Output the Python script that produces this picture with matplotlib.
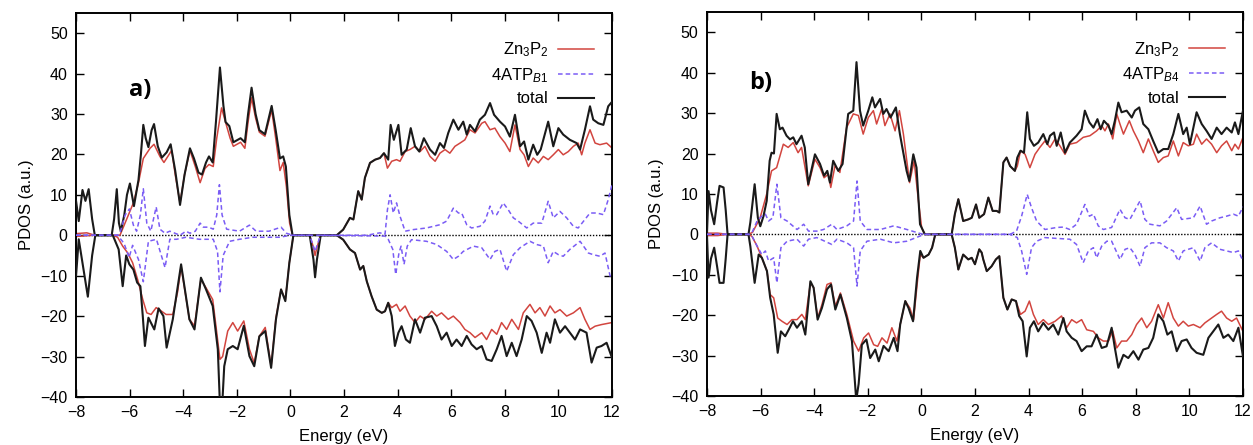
import numpy as np
import matplotlib.pyplot as plt

plt.rcParams['font.family'] = ['Liberation Sans', 'DejaVu Sans']
plt.rcParams['mathtext.fontset'] = 'custom'
plt.rcParams['mathtext.rm'] = 'Liberation Sans'
plt.rcParams['mathtext.it'] = 'Liberation Sans:italic'

# ---- panel a: (energy eV, PDOS) pairs, spin up (+) and spin down (-) ----
a_total_up = [(-8.0, 8.5), (-7.90, 3.5), (-7.76, 11.2), (-7.65, 8.5), (-7.53, 11.4), (-7.40, 4), (-7.30, 0),
              (-6.67, 0), (-6.58, 4), (-6.48, 11.4), (-6.40, 3), (-6.33, 1), (-6.20, 5), (-6.10, 10), (-5.99, 12.8),
              (-5.84, 7.2), (-5.67, 13.7), (-5.58, 20), (-5.49, 27.3), (-5.40, 24), (-5.30, 21.8), (-5.18, 26),
              (-5.09, 27.5), (-4.95, 22), (-4.80, 19.2), (-4.62, 20.5), (-4.47, 22.5), (-4.30, 16), (-4.12, 7.5),
              (-3.95, 15), (-3.75, 21.5), (-3.60, 19), (-3.43, 15.5), (-3.30, 15), (-3.15, 18), (-3.04, 19.5),
              (-2.90, 18), (-2.78, 28), (-2.63, 41.5), (-2.50, 32), (-2.42, 28), (-2.28, 27), (-2.13, 23),
              (-1.86, 24), (-1.70, 23), (-1.58, 30), (-1.45, 36.5), (-1.30, 30), (-1.16, 26), (-0.95, 25),
              (-0.70, 32), (-0.55, 26), (-0.39, 19), (-0.27, 19.5), (-0.17, 17), (-0.04, 5), (0.08, 0),
              (1.73, 0), (1.97, 1.4), (2.22, 4.3), (2.35, 3.9), (2.53, 10.9), (2.66, 8.8), (2.78, 14.2), (2.97, 17.9),
              (3.16, 18.7), (3.34, 19.1), (3.49, 20.3), (3.65, 18.7), (3.74, 27.3), (3.86, 23.6), (4.03, 27.3),
              (4.15, 19.9), (4.34, 21.2), (4.49, 26.5), (4.65, 22), (4.81, 20.7), (4.98, 24), (5.21, 21.2),
              (5.40, 19.9), (5.58, 22.8), (5.73, 21.6), (5.89, 25.3), (6.08, 28.6), (6.27, 26.1), (6.45, 28.1),
              (6.58, 24.9), (6.70, 27.3), (6.89, 25.7), (7.07, 28.6), (7.26, 29.8), (7.45, 32.7), (7.60, 29.8),
              (7.82, 28.1), (8.01, 26.9), (8.19, 24.4), (8.38, 29.8), (8.57, 22), (8.72, 23.2), (8.88, 18.7),
              (9.06, 22.4), (9.21, 19.9), (9.34, 21.2), (9.62, 28.1), (9.81, 22), (10.0, 26.5), (10.18, 24.9),
              (10.43, 23.6), (10.68, 22.8), (10.81, 21.2), (10.99, 26.1), (11.18, 31.9), (11.30, 28.6),
              (11.49, 27.7), (11.68, 27.3), (11.86, 31.9), (12.0, 33)]

a_zn_up = [(-8.0, 0.4), (-7.6, 0.6), (-7.3, 0), (-6.36, 0), (-6.11, 4), (-5.86, 8), (-5.67, 13), (-5.49, 19),
           (-5.24, 21.5), (-5.09, 22.5), (-4.87, 19.5), (-4.72, 18), (-4.43, 21), (-4.30, 15), (-4.12, 8),
           (-3.95, 15), (-3.75, 21), (-3.55, 17), (-3.37, 13), (-3.19, 16.5), (-3.04, 17.5), (-2.88, 17),
           (-2.75, 24), (-2.57, 31.5), (-2.38, 27), (-2.25, 24), (-2.13, 22), (-1.86, 23), (-1.70, 21.5),
           (-1.58, 28), (-1.45, 34), (-1.30, 29), (-1.16, 25.5), (-0.95, 24.5), (-0.70, 31), (-0.55, 24),
           (-0.39, 16), (-0.27, 18), (-0.15, 12), (-0.03, 3), (0.08, 0),
           (1.73, 0), (1.97, 1.4), (2.22, 4.3), (2.35, 3.9), (2.53, 10.9), (2.66, 8.8), (2.78, 14.2), (2.97, 17.9),
           (3.16, 18.7), (3.34, 19.1), (3.49, 20.3), (3.62, 16.6), (3.78, 18.3), (3.96, 18.7), (4.09, 18.3),
           (4.28, 20.7), (4.46, 21.2), (4.65, 22), (4.84, 20.7), (5.02, 22), (5.21, 19.5), (5.40, 18.3),
           (5.58, 20.3), (5.77, 21.2), (5.95, 20.3), (6.14, 22), (6.33, 22.8), (6.51, 23.6), (6.70, 26.1),
           (6.89, 25.3), (7.14, 27.7), (7.26, 28.1), (7.45, 26.1), (7.63, 26.5), (7.82, 24.4), (8.01, 22.8),
           (8.19, 20.7), (8.38, 27.3), (8.57, 21.2), (8.72, 19.9), (8.88, 17), (9.06, 19.1), (9.25, 17.9),
           (9.44, 19.5), (9.62, 18.7), (9.81, 19.9), (10.0, 21.2), (10.18, 19.9), (10.37, 20.7), (10.56, 22),
           (10.74, 22.8), (10.87, 19.9), (10.99, 22.8), (11.18, 26.1), (11.37, 22.8), (11.55, 22.4),
           (11.80, 22.8), (12.0, 21.6)]

a_atp_up = [(-8.0, 0), (-6.45, 0), (-6.36, 0.5), (-6.17, 5), (-6.01, 6.5), (-5.86, 2.5), (-5.74, 1), (-5.60, 5),
            (-5.49, 11.5), (-5.36, 3), (-5.21, 1), (-5.01, 7), (-4.87, 1.5), (-4.68, 0.5), (-4.50, 1), (-4.31, 0.5),
            (-4.12, 0), (-3.90, 1), (-3.75, 0.5), (-3.55, 1), (-3.37, 3), (-3.25, 2), (-3.05, 2), (-2.88, 1.5),
            (-2.75, 5), (-2.65, 12.5), (-2.55, 5), (-2.38, 1.5), (-1.90, 1), (-1.53, 2.5), (-1.28, 1), (-0.8, 1),
            (-0.35, 2), (-0.15, 0.5), (0.08, 0),
            (2.85, 0), (3.34, 0.6), (3.53, 0.2), (3.62, 6.3), (3.72, 10), (3.84, 5.5), (3.96, 8), (4.09, 4.7),
            (4.28, 1), (4.59, 1.4), (5.08, 1.8), (5.58, 2.6), (5.83, 3.5), (6.08, 6.7), (6.27, 5.5), (6.39, 5.5),
            (6.58, 2.6), (6.76, 1.8), (7.07, 2.2), (7.26, 3.5), (7.45, 7.2), (7.57, 5.1), (7.70, 5.1), (7.94, 8),
            (8.13, 6.3), (8.32, 4.3), (8.50, 3.5), (8.82, 1.8), (9.06, 3), (9.38, 3), (9.62, 8.4), (9.81, 4.3),
            (10.06, 5.9), (10.31, 4.3), (10.56, 2.2), (10.74, 1.8), (10.99, 3.9), (11.18, 5.5), (11.43, 5.5),
            (11.68, 5.1), (11.86, 8.8), (12.0, 12.5)]

a_total_dn = [(-8.0, -10), (-7.90, -1), (-7.56, -15.2), (-7.40, -5), (-7.28, 0), (-6.63, 0), (-6.41, -3.5),
              (-6.26, -12.6), (-6.13, -5), (-6.01, -7.2), (-5.86, -8.5), (-5.72, -11.7), (-5.60, -12.6),
              (-5.51, -20), (-5.43, -27.4), (-5.30, -20.4), (-5.08, -23.3), (-4.92, -18.1), (-4.74, -20),
              (-4.62, -27.8), (-4.39, -20.8), (-4.08, -7.2), (-3.77, -20.8), (-3.58, -23.3), (-3.34, -10.5),
              (-3.15, -13.4), (-2.90, -17.5), (-2.71, -28.2), (-2.63, -42), (-2.53, -40), (-2.47, -32.4),
              (-2.34, -28.2), (-2.15, -27.4), (-1.97, -28.2), (-1.74, -22.4), (-1.53, -29.9), (-1.35, -32.4),
              (-1.16, -25), (-0.94, -23.7), (-0.72, -32.8), (-0.54, -20.8), (-0.35, -13.4), (-0.19, -16.3),
              (-0.04, -6.8), (0.11, 0), (0.72, 0), (0.86, -6), (0.92, -10.4), (0.99, -6), (1.13, 0),
              (1.73, 0), (1.97, -1.1), (2.22, -3.5), (2.41, -4.4), (2.60, -8.5), (2.72, -7.6), (2.85, -11.4),
              (3.03, -15.1), (3.22, -18.4), (3.41, -19.2), (3.53, -18.8), (3.65, -16.7), (3.78, -20), (3.90, -27.4),
              (4.03, -24.1), (4.15, -22.5), (4.31, -25.8), (4.46, -26.6), (4.65, -20.8), (4.84, -24.1), (5.02, -20.4),
              (5.27, -20), (5.46, -22.5), (5.64, -25.8), (5.83, -24.1), (6.02, -27.4), (6.20, -25.8), (6.39, -27.4),
              (6.58, -24.9), (6.76, -27), (6.95, -28.2), (7.14, -27.4), (7.32, -30.7), (7.51, -31.1), (7.70, -28.2),
              (7.88, -24.9), (8.07, -29.9), (8.26, -26.6), (8.44, -29.9), (8.63, -25.8), (8.82, -20), (9.0, -21.2),
              (9.19, -24.1), (9.38, -29.1), (9.56, -24.1), (9.69, -26.6), (9.87, -20.8), (10.06, -24.1),
              (10.25, -22.5), (10.43, -24.1), (10.62, -25.8), (10.81, -23.3), (11.05, -24.1), (11.24, -31.5),
              (11.43, -27.8), (11.61, -27.4), (11.80, -26.6), (12.0, -30.3)]

a_zn_dn = [(-8.0, -0.3), (-7.3, 0), (-6.63, 0), (-6.45, -0.5), (-6.26, -2.7), (-6.07, -4.4), (-5.89, -6.8),
           (-5.70, -11), (-5.51, -15.9), (-5.36, -19.2), (-5.20, -19.6), (-5.01, -17.9), (-4.83, -18.7),
           (-4.64, -19.6), (-4.39, -19.6), (-4.21, -14), (-4.08, -7.7), (-3.77, -20.8), (-3.58, -22.4),
           (-3.34, -10.9), (-3.15, -13), (-2.90, -15.9), (-2.78, -22.4), (-2.63, -30.7), (-2.53, -30),
           (-2.34, -23.7), (-2.15, -21.6), (-1.97, -23.7), (-1.74, -21.2), (-1.53, -28.2), (-1.35, -31.6),
           (-1.16, -25), (-0.94, -22.8), (-0.72, -32.4), (-0.54, -20.4), (-0.35, -13.4), (-0.19, -16),
           (-0.04, -6.8), (0.11, 0), (0.72, 0), (0.86, -3), (0.92, -5), (0.99, -3), (1.13, 0),
           (1.73, 0), (1.97, -1.1), (2.22, -3.5), (2.41, -4.4), (2.60, -8.5), (2.72, -7.6), (2.85, -11.4),
           (3.03, -15.1), (3.22, -18.4), (3.41, -19.2), (3.53, -18.8), (3.65, -16.7), (3.78, -17.9), (3.96, -17.1),
           (4.09, -18.8), (4.28, -17.5), (4.46, -20), (4.65, -21.6), (4.84, -20), (5.02, -20.8), (5.27, -18.8),
           (5.46, -20), (5.64, -19.2), (5.89, -20.8), (6.08, -20), (6.33, -21.6), (6.51, -23.3), (6.70, -24.1),
           (6.89, -25.3), (7.14, -24.1), (7.32, -25.8), (7.51, -23.3), (7.70, -24.5), (7.88, -21.6), (8.07, -23.3),
           (8.26, -20.8), (8.51, -23.3), (8.69, -19.2), (8.94, -17.1), (9.13, -19.2), (9.31, -17.9), (9.50, -20),
           (9.69, -17.5), (9.87, -19.2), (10.06, -18.4), (10.31, -20), (10.56, -19.2), (10.81, -17.9),
           (10.99, -20.8), (11.18, -23.3), (11.37, -22.5), (11.61, -22.1), (12.0, -21.6)]

a_atp_dn = [(-8.0, 0), (-6.45, 0), (-6.21, -2), (-6.02, -5.5), (-5.89, -2.5), (-5.67, -6), (-5.49, -11.5),
            (-5.30, -1.5), (-5.0, -1), (-4.68, -8), (-4.50, -1), (-4.25, -1), (-3.9, -0.5), (-3.4, -1), (-2.88, -1),
            (-2.72, -4), (-2.63, -14), (-2.51, -5), (-2.27, -1.5), (-1.9, -1), (-1.4, -0.5), (-0.9, -0.5),
            (-0.4, -0.5), (0.0, 0), (0.72, 0), (0.92, -4), (1.12, 0),
            (3.53, -0.2), (3.65, -1), (3.82, -3.5), (3.93, -9.7), (4.05, -4.4), (4.13, -2.7), (4.24, -7.2),
            (4.36, -2.7), (4.52, -1.1), (5.08, -1.5), (5.46, -2.3), (5.83, -4), (6.08, -6), (6.27, -5.2),
            (6.45, -4), (6.83, -2.7), (7.14, -3.1), (7.45, -6), (7.63, -4), (7.82, -3.5), (8.07, -8.9),
            (8.32, -4.8), (8.57, -3.1), (8.94, -1.5), (9.19, -2.3), (9.44, -2.7), (9.62, -6.8), (9.81, -4),
            (10.0, -4.8), (10.18, -5.2), (10.43, -3.5), (10.81, -1.5), (11.12, -4.4), (11.30, -4.8),
            (11.55, -5.2), (11.74, -4.4), (11.93, -10.1), (12.0, -10.1)]

# ---- panel b ----
b_total_up = [(-8.0, 0), (-7.94, 10.7), (-7.85, 6), (-7.73, 2.5), (-7.62, 8), (-7.53, 12), (-7.38, 11.6),
              (-7.30, 6), (-7.23, 0), (-6.45, 0), (-6.38, 3), (-6.22, 12.4), (-6.10, 4.1), (-6.01, 2),
              (-5.89, 4.5), (-5.77, 8.3), (-5.66, 18.2), (-5.59, 20.2), (-5.50, 20), (-5.40, 29.8), (-5.28, 26),
              (-5.18, 26.4), (-5.03, 24.4), (-4.90, 23.5), (-4.78, 24), (-4.66, 22.3), (-4.47, 24.4), (-4.35, 21.5),
              (-4.22, 12.4), (-3.97, 19.8), (-3.78, 17.4), (-3.63, 14.5), (-3.51, 15.7), (-3.41, 12.8), (-3.29, 18.2),
              (-3.10, 15.7), (-2.94, 17.4), (-2.73, 29.8), (-2.54, 30.6), (-2.42, 42.6), (-2.29, 30.6),
              (-2.17, 26.9), (-1.98, 30.6), (-1.83, 33.9), (-1.73, 31.4), (-1.54, 33.5), (-1.42, 29.8), (-1.30, 31),
              (-1.15, 28.9), (-0.95, 31.4), (-0.80, 24.8), (-0.55, 15.7), (-0.45, 13.2), (-0.30, 19.8),
              (-0.18, 16.5), (-0.05, 2.5), (0.13, 0),
              (1.13, 0), (1.25, 5), (1.38, 8.7), (1.56, 3.3), (1.75, 3.7), (1.88, 4.1), (2.04, 7.4), (2.16, 4.1),
              (2.34, 5), (2.50, 9.1), (2.66, 5.8), (2.81, 5.8), (2.91, 5.4), (3.06, 17.8), (3.18, 19), (3.31, 16.9),
              (3.49, 15.7), (3.58, 19), (3.70, 20.7), (3.83, 20.2), (3.95, 30.2), (4.05, 23.6), (4.20, 21.9),
              (4.36, 22.7), (4.55, 24.8), (4.70, 22.3), (4.80, 24.4), (4.95, 25.2), (5.05, 21.9), (5.20, 25.2),
              (5.36, 20.2), (5.54, 22.7), (5.79, 24.4), (5.98, 26), (6.10, 30.6), (6.27, 27.7), (6.42, 26.4),
              (6.57, 28.5), (6.69, 26), (6.81, 28.1), (6.98, 26.9), (7.10, 24.8), (7.22, 28.1), (7.35, 32.6),
              (7.47, 30.2), (7.66, 30.6), (7.85, 28.9), (7.97, 30.6), (8.13, 31.4), (8.28, 27.3), (8.47, 26),
              (8.65, 23.1), (8.84, 20.2), (9.03, 21.1), (9.21, 21.1), (9.40, 24.8), (9.59, 29.8), (9.77, 24.8),
              (9.90, 26.4), (10.02, 22.3), (10.27, 30.2), (10.46, 27.3), (10.64, 25.6), (10.83, 23.6),
              (11.02, 26.4), (11.20, 24.8), (11.39, 26.4), (11.58, 25.2), (11.70, 27.7), (11.83, 24.8), (12.0, 30.6)]

b_zn_up = [(-8.0, 0.3), (-7.6, 0.3), (-7.23, 0), (-6.45, 0), (-6.30, 0.5), (-6.02, 4), (-5.77, 10), (-5.59, 15.7),
           (-5.40, 16.5), (-5.15, 22.3), (-4.97, 21.5), (-4.78, 22.7), (-4.60, 20.2), (-4.47, 21.5), (-4.22, 12),
           (-3.97, 18.6), (-3.78, 16.5), (-3.63, 14), (-3.47, 14.9), (-3.38, 11.6), (-3.22, 17), (-3.04, 15.3),
           (-2.79, 26.4), (-2.54, 29.8), (-2.35, 29.4), (-2.17, 24.8), (-1.98, 28.9), (-1.79, 30.6), (-1.67, 27.3),
           (-1.48, 31), (-1.36, 26.9), (-1.17, 29.8), (-0.98, 25.6), (-0.82, 30.6), (-0.67, 24.8), (-0.44, 12.8),
           (-0.27, 18.2), (-0.11, 8.3), (0.01, 1.7), (0.13, 0),
           (1.13, 0), (1.25, 5), (1.38, 8.7), (1.56, 3.3), (1.75, 3.7), (1.88, 4.1), (2.04, 7.4), (2.16, 4.1),
           (2.34, 5), (2.50, 9.1), (2.66, 5.8), (2.81, 5.8), (2.91, 5.4), (3.06, 17.8), (3.18, 19), (3.31, 16.9),
           (3.49, 15.7), (3.58, 16.9), (3.70, 20.7), (3.87, 19.8), (4.05, 16.5), (4.24, 19.8), (4.42, 21.5),
           (4.61, 23.1), (4.80, 21.5), (4.99, 23.6), (5.17, 21.9), (5.36, 19.8), (5.54, 22.3), (5.79, 22.7),
           (6.04, 24), (6.29, 24.4), (6.54, 25.6), (6.73, 26.9), (6.85, 25.6), (6.98, 27.3), (7.14, 23.6),
           (7.29, 29.8), (7.41, 27.3), (7.54, 24.8), (7.76, 28.1), (7.91, 25.6), (8.10, 23.1), (8.28, 20.2),
           (8.47, 23.6), (8.65, 20.7), (8.84, 17.8), (9.03, 19), (9.21, 19.4), (9.40, 23.1), (9.59, 19.4),
           (9.77, 22.7), (9.96, 21.9), (10.15, 22.3), (10.27, 24.8), (10.46, 22.3), (10.64, 23.6), (10.83, 22.3),
           (11.02, 20.2), (11.20, 21.9), (11.39, 23.1), (11.58, 20.7), (11.70, 22.3), (11.83, 21.1), (12.0, 24)]

b_atp_up = [(-8.0, 0), (-6.45, 0), (-6.32, 0.4), (-6.13, 3.3), (-5.95, 4.5), (-5.82, 5), (-5.70, 3.3),
            (-5.54, 4.1), (-5.39, 12.4), (-5.24, 4.1), (-5.01, 3.3), (-4.64, 1.2), (-4.39, 2.5), (-4.21, 0.8),
            (-3.90, 0.8), (-3.65, 1.2), (-3.34, 2.5), (-3.15, 1.2), (-2.78, 2.1), (-2.53, 3.3), (-2.40, 13.2),
            (-2.28, 3.3), (-2.03, 1.2), (-1.53, 1.2), (-1.03, 2.1), (-0.54, 1.2), (-0.04, 0.2), (0.08, 0),
            (3.31, 0), (3.55, 0.8), (3.74, 4.5), (3.95, 9.9), (4.11, 6.6), (4.30, 3.3), (4.61, 1.2), (5.05, 1.7),
            (5.30, 1.8), (5.54, 1.2), (5.79, 2.5), (6.10, 7.4), (6.27, 4.5), (6.42, 5), (6.60, 2.1), (6.79, 1.2),
            (7.10, 1.7), (7.41, 6.2), (7.60, 4.1), (7.78, 3.7), (8.16, 8.3), (8.34, 3.7), (8.53, 2.5), (8.90, 2.1),
            (9.15, 3.3), (9.53, 6.6), (9.71, 3.7), (10.15, 4.1), (10.40, 7), (10.64, 2.5), (10.83, 3.3),
            (11.14, 4.1), (11.39, 4.5), (11.64, 5), (11.83, 4.5), (12.0, 6.8)]

b_total_dn = [(-8.0, 0), (-7.94, -10.7), (-7.85, -6), (-7.73, -3.3), (-7.62, -8), (-7.53, -12), (-7.38, -12),
              (-7.30, -6), (-7.23, 0), (-6.45, 0), (-6.38, -3), (-6.22, -12), (-6.07, -5), (-5.95, -5.8),
              (-5.76, -9.1), (-5.64, -15.7), (-5.51, -19.8), (-5.36, -29.3), (-5.24, -24), (-5.08, -25.2),
              (-4.95, -23.6), (-4.79, -21.5), (-4.64, -23.1), (-4.46, -21.5), (-4.33, -24.8), (-4.14, -11.6),
              (-4.02, -13.2), (-3.87, -21.1), (-3.71, -18.2), (-3.52, -13.6), (-3.37, -12.4), (-3.21, -18.6),
              (-3.02, -14.9), (-2.78, -20.7), (-2.59, -26.4), (-2.43, -41), (-2.34, -37), (-2.22, -27.3),
              (-2.05, -26), (-1.91, -30.6), (-1.72, -28.5), (-1.59, -31.4), (-1.41, -27.6), (-1.22, -28.9),
              (-1.03, -25.6), (-0.89, -28.9), (-0.79, -22.3), (-0.60, -16.5), (-0.48, -18.2), (-0.31, -21.5),
              (-0.16, -10.7), (-0.04, -4.1), (0.08, -5.8), (0.27, -5), (0.40, -3.3), (0.52, 0),
              (1.13, 0), (1.25, -3.3), (1.38, -8.7), (1.56, -5), (1.75, -6.2), (1.88, -5.8), (2.0, -7.4),
              (2.16, -3.7), (2.25, -4.5), (2.31, -6.2), (2.44, -9.1), (2.62, -7.9), (2.78, -6.2), (2.91, -5.4),
              (3.06, -15.7), (3.21, -18.6), (3.37, -16.1), (3.53, -16.5), (3.65, -20.2), (3.78, -21.5),
              (3.93, -30.2), (4.05, -23.1), (4.20, -21.5), (4.36, -24), (4.55, -21.9), (4.74, -23.6), (4.92, -22.3),
              (5.11, -24.8), (5.30, -20.7), (5.42, -24), (5.61, -25.6), (5.79, -26.4), (5.98, -28.9), (6.17, -27.7),
              (6.35, -27.7), (6.54, -24.8), (6.73, -28.1), (6.91, -27.7), (7.10, -23.1), (7.22, -28.1), (7.35, -33),
              (7.54, -29.8), (7.72, -30.6), (7.91, -28.9), (8.10, -31), (8.28, -28.5), (8.47, -28.1), (8.65, -25.6),
              (8.84, -19.8), (9.03, -21.5), (9.18, -24.8), (9.34, -24), (9.53, -28.9), (9.71, -26.4), (9.90, -26),
              (10.08, -28.1), (10.27, -29.3), (10.52, -29.8), (10.71, -25.6), (10.89, -24), (11.08, -22.3),
              (11.27, -25.6), (11.45, -24.8), (11.64, -26.4), (11.83, -23.1), (12.0, -30.2)]

b_zn_dn = [(-8.0, -0.3), (-7.6, -0.3), (-7.23, 0), (-6.45, 0), (-6.32, -0.5), (-6.13, -2.9), (-5.95, -5.8),
           (-5.76, -9.1), (-5.64, -14.9), (-5.51, -15.7), (-5.36, -20.7), (-5.20, -21.5), (-5.01, -22.3),
           (-4.83, -21.1), (-4.64, -21.1), (-4.46, -19.8), (-4.33, -21.1), (-4.14, -12), (-4.02, -13.2),
           (-3.87, -20.7), (-3.71, -17.4), (-3.52, -12.4), (-3.37, -12), (-3.21, -17.8), (-3.02, -14.5),
           (-2.78, -19.8), (-2.53, -26.4), (-2.34, -28.9), (-2.15, -25.6), (-1.97, -24.4), (-1.78, -27.3),
           (-1.63, -27.7), (-1.47, -25.6), (-1.28, -26.9), (-1.10, -23.1), (-0.91, -26.4), (-0.79, -22.3),
           (-0.60, -16.5), (-0.43, -18.2), (-0.29, -21.1), (-0.14, -11.2), (-0.04, -5), (0.08, -5.8),
           (0.27, -5), (0.40, -3.3), (0.52, 0),
           (1.13, 0), (1.25, -3.3), (1.38, -8.7), (1.56, -5), (1.75, -6.2), (1.88, -5.8), (2.0, -7.4),
           (2.16, -3.7), (2.25, -4.5), (2.31, -6.2), (2.44, -9.1), (2.62, -7.9), (2.78, -6.2), (2.91, -5.4),
           (3.06, -15.7), (3.21, -18.6), (3.37, -16.1), (3.53, -16.5), (3.70, -19.8), (3.87, -19), (4.03, -16.5),
           (4.18, -19.8), (4.36, -22.3), (4.55, -21.1), (4.74, -22.3), (4.99, -21.5), (5.23, -20.2), (5.42, -23.1),
           (5.61, -21.1), (5.79, -21.9), (5.98, -21.1), (6.17, -23.6), (6.42, -24), (6.60, -25.6), (6.79, -26.4),
           (6.98, -26.4), (7.14, -23.9), (7.29, -28.1), (7.47, -26.4), (7.66, -26.4), (7.85, -24.8),
           (8.03, -22.3), (8.22, -20.7), (8.41, -23.1), (8.59, -21.5), (8.84, -17.4), (9.03, -20.7),
           (9.21, -16.9), (9.40, -20.7), (9.59, -22.7), (9.77, -21.5), (9.96, -22.7), (10.15, -22.3),
           (10.40, -23.1), (10.58, -21.9), (10.83, -20.7), (11.02, -19.8), (11.20, -19), (11.39, -20.7),
           (11.58, -21.5), (11.76, -20.7), (12.0, -24)]

b_atp_dn = [(-8.0, 0), (-6.45, 0), (-6.32, -0.4), (-6.13, -2.9), (-5.95, -5), (-5.82, -4.1), (-5.70, -6.6),
            (-5.51, -5.8), (-5.39, -12), (-5.24, -3.3), (-5.01, -1.7), (-4.64, -1.2), (-4.39, -2.9), (-4.21, -1.2),
            (-3.90, -0.8), (-3.34, -2.5), (-3.15, -1.2), (-2.78, -2.1), (-2.53, -3.3), (-2.40, -12.8),
            (-2.28, -4.1), (-2.03, -1.7), (-1.53, -1.2), (-1.03, -2.1), (-0.54, -1.7), (-0.04, -0.4), (0.08, 0),
            (3.31, 0), (3.58, -0.8), (3.74, -4.1), (3.93, -9.9), (4.11, -3.3), (4.30, -1.7), (4.61, -0.8),
            (5.05, -1), (5.54, -1.2), (5.79, -2.5), (6.04, -7), (6.23, -4.1), (6.42, -3.3), (6.54, -5.8),
            (6.73, -2.9), (6.92, -1.7), (7.10, -1.7), (7.41, -6.2), (7.60, -3.7), (7.78, -3.3), (7.97, -5),
            (8.16, -7.9), (8.34, -3.3), (8.59, -2.1), (8.90, -2.1), (9.15, -3.3), (9.40, -4.1), (9.59, -6.6),
            (9.77, -4.1), (10.15, -3.3), (10.40, -6.6), (10.58, -3.3), (10.83, -2.1), (11.14, -3.7),
            (11.39, -4.1), (11.64, -4.5), (11.83, -4.1), (12.0, -6.6)]

panels = [
    ("a)", (-5.6, 36), r"4ATP$_{\mathit{B1}}$", a_zn_up, a_zn_dn, a_atp_up, a_atp_dn, a_total_up, a_total_dn),
    ("b)", (-6.0, 37.5), r"4ATP$_{\mathit{B4}}$", b_zn_up, b_zn_dn, b_atp_up, b_atp_dn, b_total_up, b_total_dn),
]

red = "#d2453f"
blue = "#7a5cf5"

fig = plt.figure(figsize=(12.53, 4.45), dpi=100)
rects = [[0.0607, 0.108, 0.4277, 0.863], [0.5642, 0.110, 0.4278, 0.863]]

for rect, (tag, tag_pos, atp_label, zn_u, zn_d, atp_u, atp_d, tot_u, tot_d) in zip(rects, panels):
    ax = fig.add_axes(rect)
    ax.axhline(0, color="black", lw=1.0, ls=(0, (1, 1.2)), zorder=1)

    e, v = np.array(zn_u).T
    ax.plot(e, v, color=red, lw=1.1, zorder=2, label=r"Zn$_3$P$_2$")
    e, v = np.array(zn_d).T
    ax.plot(e, v, color=red, lw=1.1, zorder=2)

    e, v = np.array(atp_u).T
    ax.plot(e, v, color=blue, lw=1.1, ls=(0, (3, 2)), zorder=4, label=atp_label)
    e, v = np.array(atp_d).T
    ax.plot(e, v, color=blue, lw=1.1, ls=(0, (3, 2)), zorder=4)

    e, v = np.array(tot_u).T
    ax.plot(e, v, color="#1a1a1a", lw=1.5, zorder=3, label="total")
    e, v = np.array(tot_d).T
    ax.plot(e, v, color="#1a1a1a", lw=1.5, zorder=3)

    ax.set_xlim(-8, 12)
    ax.set_ylim(-40, 55)
    ax.set_xticks(np.arange(-8, 13, 2))
    ax.set_yticks(np.arange(-40, 51, 10))
    ax.tick_params(direction="in", top=True, right=True, length=6, width=1.0, labelsize=11.5, pad=6)
    for s in ax.spines.values():
        s.set_linewidth(1.4)
    ax.set_xlabel("Energy (eV)", fontsize=12, labelpad=6)
    ax.set_ylabel("PDOS (a.u.)", fontsize=12, labelpad=5)

    ax.text(tag_pos[0], tag_pos[1], tag, fontsize=17, fontweight="bold", ha="center", va="center",
            family=["Open Sans", "DejaVu Sans"])

    ax.legend(loc="upper right", bbox_to_anchor=(0.978, 0.945), frameon=False, markerfirst=False,
              fontsize=12, handlelength=2.15, labelspacing=0.4, handletextpad=0.55, borderaxespad=0)

fig.savefig("out.png", dpi=100)
